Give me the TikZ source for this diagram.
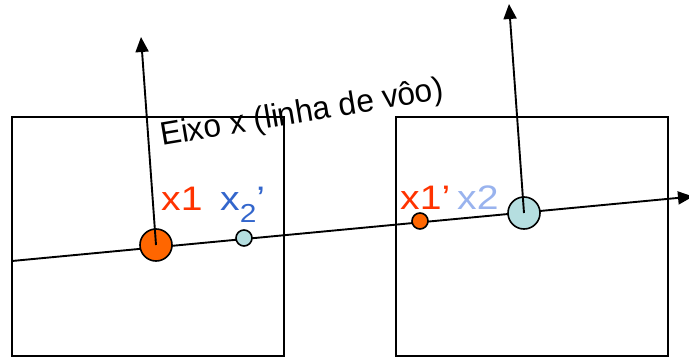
\documentclass[tikz,border=0pt]{standalone}
\usepackage{fontspec}
\setmainfont{Liberation Sans}
\usetikzlibrary{arrows.meta}
\definecolor{redor}{HTML}{FF3300}
\definecolor{orfill}{HTML}{FF6600}
\definecolor{bluelab}{HTML}{3366CC}
\definecolor{lightblue}{HTML}{99B3EE}
\definecolor{cyanfill}{HTML}{B5DEE0}
\begin{document}
\begin{tikzpicture}[x=1pt,y=-1pt,
  frame/.style={draw=black,line width=1.8pt,minimum width=272pt,minimum height=239pt,inner sep=0pt},
  bigdot/.style={circle,draw=black,line width=1.6pt,minimum size=32pt,inner sep=0pt},
  smalldot/.style={circle,draw=black,line width=1.6pt,minimum size=16pt,inner sep=0pt},
  axis/.style={line width=1.9pt,-{Triangle[length=15pt,width=13pt]}},
  lab/.style={inner sep=0pt,anchor=base west,xscale=1.15,font=\fontsize{34}{34}\selectfont}]
\useasboundingbox (0,0) rectangle (689,359);
\node[frame] (lbox) at (148,236.5) {};
\node[frame] (rbox) at (532,236.5) {};
\coordinate (ls) at (12,261);
\coordinate (le) at (693,196.5);
\draw[axis] (ls) -- (le);
\node[bigdot,fill=orfill] (c1) at (156,245) {};
\node[smalldot,fill=cyanfill] (c2p) at (244,238) {};
\node[smalldot,fill=orfill] (c1p) at (420,221) {};
\node[bigdot,fill=cyanfill] (c2) at (524,213) {};
\coordinate (t1) at (141,37);
\coordinate (t2) at (509,4);
\draw[axis] (c1.center) -- (t1);
\draw[axis] (c2.center) -- (t2);
\node[lab,text=redor] (l1) at (161,210) {x1};
\node[lab,text=bluelab] (l2p) at (220,210) {x\raisebox{-12pt}{\fontsize{26}{26}\selectfont 2}’};
\node[lab,text=redor] (l1p) at (400,209) {x1’};
\node[lab,text=lightblue] (l2) at (457,209) {x2};
\node[inner sep=0pt,anchor=base west,rotate=9.5,xscale=1.02,yscale=1.05,font=\fontsize{31}{31}\selectfont] (title) at (162,146) {Eixo x (linha de vôo)};
\end{tikzpicture}
\end{document}
